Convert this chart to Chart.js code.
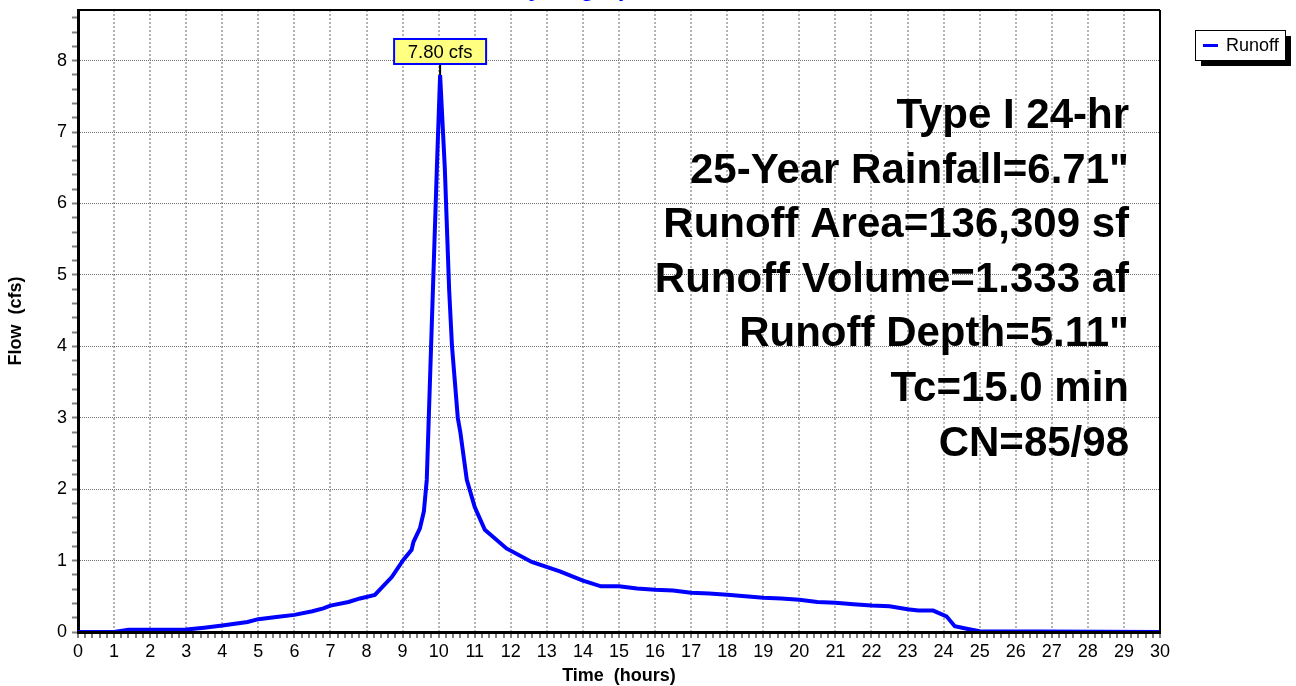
<!DOCTYPE html>
<html>
<head>
<meta charset="utf-8">
<title>Hydrograph</title>
<script src="https://cdn.jsdelivr.net/npm/chart.js@4.4.1/dist/chart.umd.min.js"></script>
<style>
  html, body { margin: 0; padding: 0; background: #fff; }
  canvas { display: block; }
</style>
</head>
<body>
<canvas id="chart1" width="1296" height="686"></canvas>
<script>
// Runoff hydrograph, time in hours / flow in cfs
const hours = [
    0, 1.0, 1.4, 3.0, 3.5, 4.0, 4.7, 5.0, 5.5, 6.0, 6.5, 6.8, 7.0, 7.5, 7.82, 8.23,
    8.7, 9.02, 9.25, 9.3, 9.48, 9.59, 9.67, 9.95, 10.04, 10.17, 10.29, 10.37, 10.53, 10.6,
    10.78, 11.0, 11.28, 11.88, 12.58, 13.36, 14.0, 14.5, 15.0, 15.5, 16.0, 16.5, 17.0,
    17.5, 18.0, 18.5, 19.0, 19.5, 20.0, 20.5, 21.0, 21.5, 22.0, 22.5, 23.0, 23.3, 23.71,
    24.08, 24.31, 24.64, 25.0, 30.0
];
const runoffCfs = [
    0, 0, 0.03, 0.035, 0.06, 0.09, 0.14, 0.18, 0.21, 0.24, 0.29, 0.33, 0.37, 0.42, 0.47, 0.52,
    0.77, 1.01, 1.15, 1.26, 1.45, 1.69, 2.13, 6.5, 7.80, 6.5, 4.8, 4.0, 3.0, 2.8,
    2.13, 1.75, 1.43, 1.17, 0.98, 0.85, 0.72, 0.64, 0.64, 0.61, 0.59, 0.58, 0.55,
    0.54, 0.52, 0.50, 0.48, 0.47, 0.45, 0.42, 0.41, 0.39, 0.37, 0.36, 0.32, 0.30, 0.30,
    0.22, 0.08, 0.046, 0.01, 0.0
];

const summaryLines = [
    'Type I 24-hr',
    '25-Year Rainfall=6.71"',
    'Runoff Area=136,309 sf',
    'Runoff Volume=1.333 af',
    'Runoff Depth=5.11"',
    'Tc=15.0 min',
    'CN=85/98'
];

const chartTitle = 'Hydrograph';
const seriesName = 'Runoff';
const xTitle = 'Time  (hours)';
const yTitle = 'Flow  (cfs)';
const xMax = 30;
const yMax = 8.71;
const minorPerUnit = 5;   // minor tick every 0.2

const FONT = '"Liberation Sans", Arial, Helvetica, sans-serif';
Chart.defaults.font.family = FONT;
Chart.defaults.color = '#000';

const isWhole = (v) => Math.abs(v - Math.round(v)) < 1e-6;

// ticks every 0.2, labels on whole numbers only
const buildMinorTicks = (limit) => {
    const ticks = [];
    const n = Math.floor(limit * minorPerUnit + 1e-6);
    for (let i = 0; i <= n; i++) {
        ticks.push({ value: i / minorPerUnit });
    }
    return ticks;
};

const wholeLabel = (value) => isWhole(value) ? String(Math.round(value)) : '';

// no extra room for half-labels sticking past the plot edges
const dropLabelPadding = (axis) => {
    axis.paddingTop = 0;
    axis.paddingBottom = 0;
    axis.paddingLeft = 0;
    axis.paddingRight = 0;
};

const overlayPlugin = {
    id: 'overlay',
    afterDatasetsDraw(chart) {
        const { ctx, chartArea: area, scales } = chart;
        ctx.save();

        // frame: bottom axis over the curve, plus top and right edges
        ctx.strokeStyle = '#000';
        ctx.lineWidth = 3;
        ctx.beginPath();
        ctx.moveTo(area.left, area.bottom + 0.5);
        ctx.lineTo(area.right, area.bottom + 0.5);
        ctx.stroke();
        ctx.lineWidth = 2;
        ctx.beginPath();
        ctx.moveTo(area.left, area.top);
        ctx.lineTo(area.right, area.top);
        ctx.moveTo(area.right, area.top);
        ctx.lineTo(area.right, area.bottom);
        ctx.stroke();

        // peak flow callout
        let peakIdx = 0;
        runoffCfs.forEach((v, i) => { if (v > runoffCfs[peakIdx]) peakIdx = i; });
        const px = scales.x.getPixelForValue(hours[peakIdx]);
        const py = scales.y.getPixelForValue(runoffCfs[peakIdx]);
        const boxW = 92, boxH = 25;
        const boxBottom = py - 11;
        ctx.strokeStyle = '#000';
        ctx.lineWidth = 2;
        ctx.beginPath();
        ctx.moveTo(px, boxBottom);
        ctx.lineTo(px, py);
        ctx.stroke();
        ctx.fillStyle = '#ffff80';
        ctx.fillRect(px - boxW / 2, boxBottom - boxH, boxW, boxH);
        ctx.strokeStyle = '#0000ff';
        ctx.strokeRect(px - boxW / 2, boxBottom - boxH, boxW, boxH);
        ctx.fillStyle = '#000';
        ctx.font = '18.5px ' + FONT;
        ctx.textAlign = 'center';
        ctx.textBaseline = 'middle';
        ctx.fillText(runoffCfs[peakIdx].toFixed(2) + ' cfs', px, boxBottom - boxH / 2 + 1);

        // storm summary block
        ctx.font = 'bold 42px ' + FONT;
        ctx.textAlign = 'right';
        ctx.textBaseline = 'alphabetic';
        summaryLines.forEach((line, i) => {
            ctx.fillText(line, area.right - 31, area.top + 118 + i * 54.6);
        });

        // title, mostly above the canvas edge
        ctx.fillStyle = '#0000ff';
        ctx.font = 'bold 24px ' + FONT;
        ctx.textAlign = 'left';
        ctx.fillText(chartTitle, 511, -4);

        // legend box with drop shadow
        const lx = 1195, ly = 30, lw = 90, lh = 30;
        ctx.fillStyle = '#000';
        ctx.fillRect(lx + 6, ly + 6, lw, lh);
        ctx.fillStyle = '#fff';
        ctx.fillRect(lx, ly, lw, lh);
        ctx.strokeStyle = '#000';
        ctx.lineWidth = 1;
        ctx.strokeRect(lx + 0.5, ly + 0.5, lw, lh);
        ctx.strokeStyle = '#0000ff';
        ctx.lineWidth = 3;
        ctx.beginPath();
        ctx.moveTo(lx + 8, ly + 15.5);
        ctx.lineTo(lx + 23, ly + 15.5);
        ctx.stroke();
        ctx.fillStyle = '#000';
        ctx.font = '18px ' + FONT;
        ctx.textBaseline = 'middle';
        ctx.fillText(chart.data.datasets[0].label, lx + 31, ly + 16);

        ctx.restore();
    }
};

const ctx = document.getElementById('chart1');
new Chart(ctx, {
    type: 'line',
    data: {
        datasets: [{
            label: seriesName,
            data: hours.map((h, i) => ({ x: h, y: runoffCfs[i] })),
            borderColor: '#0000ff',
            borderWidth: 4,
            pointRadius: 0,
            fill: false,
            tension: 0
        }]
    },
    options: {
        responsive: false,
        animation: false,
        layout: { padding: { left: 0, top: 10, right: 136, bottom: 0 } },
        plugins: {
            legend: { display: false },
            tooltip: { enabled: false }
        },
        scales: {
            x: {
                type: 'linear',
                min: 0,
                max: xMax,
                afterBuildTicks: (axis) => { axis.ticks = buildMinorTicks(xMax); },
                afterFit: (axis) => { axis.height = 54; dropLabelPadding(axis); },
                ticks: {
                    autoSkip: false,
                    maxRotation: 0,
                    padding: 3,
                    color: '#000',
                    font: { size: 18 },
                    callback: wholeLabel
                },
                grid: {
                    color: (c) => isWhole(c.tick.value) ? '#b4b4b4' : 'rgba(0,0,0,0)',
                    lineWidth: 2,
                    tickColor: '#808080',
                    tickLength: 6,
                    tickWidth: 2,
                    tickBorderDash: []
                },
                border: { color: '#000', width: 3, dash: [2, 2] },
                title: {
                    display: true,
                    text: xTitle,
                    color: '#000',
                    font: { size: 18, weight: 'bold' },
                    padding: { top: 0, bottom: -1 }
                }
            },
            y: {
                type: 'linear',
                min: 0,
                max: yMax,
                afterBuildTicks: (axis) => { axis.ticks = buildMinorTicks(yMax); },
                afterFit: (axis) => { axis.width = 78; dropLabelPadding(axis); },
                ticks: {
                    autoSkip: false,
                    padding: 5,
                    color: '#000',
                    font: { size: 18 },
                    callback: wholeLabel
                },
                grid: {
                    color: (c) => isWhole(c.tick.value) ? '#707070' : 'rgba(0,0,0,0)',
                    lineWidth: 1,
                    tickColor: '#808080',
                    tickLength: 6,
                    tickWidth: 2,
                    tickBorderDash: []
                },
                border: { color: '#000', width: 3, dash: [1, 1] },
                title: {
                    display: true,
                    text: yTitle,
                    color: '#000',
                    font: { size: 18, weight: 'bold' },
                    padding: { top: 5, bottom: 0 }
                }
            }
        }
    },
    plugins: [overlayPlugin]
});
</script>
</body>
</html>
